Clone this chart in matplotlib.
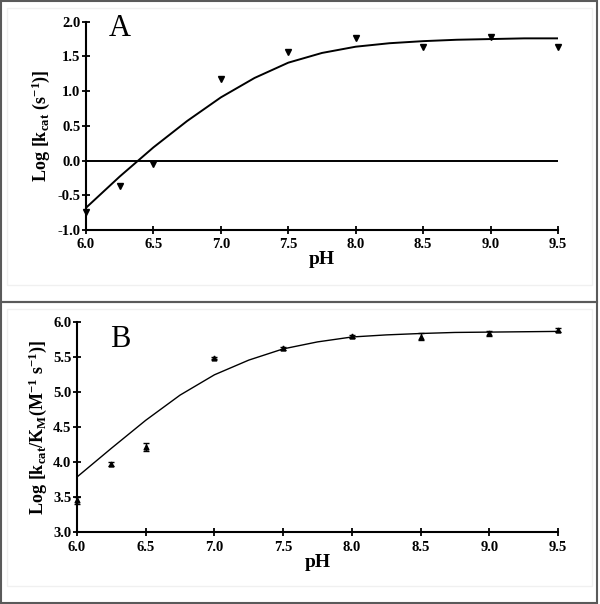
import matplotlib
matplotlib.use("Agg")
import matplotlib.pyplot as plt
from matplotlib.patches import Rectangle
from matplotlib.ticker import FormatStrFormatter

plt.rcParams['font.family'] = ['Liberation Serif', 'DejaVu Serif']
plt.rcParams['mathtext.fontset'] = 'custom'
plt.rcParams['mathtext.rm'] = 'Liberation Serif:bold'
plt.rcParams['mathtext.bf'] = 'Liberation Serif:bold'
plt.rcParams['mathtext.it'] = 'Liberation Serif:bold'
plt.rcParams['mathtext.default'] = 'bf'
plt.rcParams['axes.unicode_minus'] = False

# measured points
ph = [6.0, 6.25, 6.5, 7.0, 7.5, 8.0, 8.5, 9.0, 9.5]
log_kcat = [-0.74, -0.37, -0.05, 1.17, 1.57, 1.77, 1.64, 1.78, 1.64]
log_kcat_km = [3.46, 3.98, 4.22, 5.49, 5.63, 5.80, 5.79, 5.84, 5.89]
log_kcat_km_err = [0.05, 0.03, 0.055, 0.02, 0.02, 0.02, 0.05, 0.04, 0.03]

# fitted curves
fit_ph = [6.0, 6.25, 6.5, 6.75, 7.0, 7.25, 7.5, 7.75, 8.0, 8.25, 8.5, 8.75, 9.0, 9.25, 9.5]
fit_a = [-0.68, -0.23, 0.19, 0.57, 0.91, 1.19, 1.41, 1.55, 1.64, 1.69, 1.72, 1.74, 1.75, 1.76, 1.76]
fit_b = [3.79, 4.20, 4.60, 4.96, 5.25, 5.46, 5.62, 5.72, 5.79, 5.82, 5.84, 5.855, 5.86, 5.865, 5.87]

x_ticks = [6.0, 6.5, 7.0, 7.5, 8.0, 8.5, 9.0, 9.5]

W, H = 600, 604
fig = plt.figure(figsize=(W / 100, H / 100), dpi=100)

# panel frames
for y0, y1 in [(1, 302), (302, 603)]:
    fig.add_artist(Rectangle((1 / W, 1 - y1 / H), 596 / W, (y1 - y0) / H,
                             transform=fig.transFigure, fill=False,
                             edgecolor='#5a5a5a', linewidth=1.5))
    fig.add_artist(Rectangle((7 / W, 1 - (y1 - 17) / H), 585 / W, (y1 - y0 - 24) / H,
                             transform=fig.transFigure, fill=False,
                             edgecolor='#f0f0f0', linewidth=1))


def style_axes(ax, ylim, yticks):
    ax.set_xlim(6.0, 9.5)
    ax.set_ylim(*ylim)
    ax.set_xticks(x_ticks)
    ax.set_yticks(yticks)
    ax.xaxis.set_major_formatter(FormatStrFormatter('%.1f'))
    ax.yaxis.set_major_formatter(FormatStrFormatter('%.1f'))
    for s in ['top', 'right']:
        ax.spines[s].set_visible(False)
    for s in ['left', 'bottom']:
        ax.spines[s].set_linewidth(1.5)
    ax.tick_params(axis='both', direction='inout', length=6, width=1.3, labelsize=10.5)
    ax.tick_params(axis='x', pad=3)
    ax.tick_params(axis='y', pad=1)
    for lab in ax.get_xticklabels() + ax.get_yticklabels():
        lab.set_fontweight('bold')
    ax.set_xlabel('pH', fontsize=14, fontweight='bold', labelpad=0)


# panel A
axA = fig.add_axes([86 / W, 1 - 230 / H, 472 / W, 208.3 / H])
style_axes(axA, (-1.0, 2.0), [-1.0, -0.5, 0.0, 0.5, 1.0, 1.5, 2.0])
axA.plot([6.0, 9.5], [0, 0], color='black', linewidth=1.4)
axA.plot(fit_ph, fit_a, color='black', linewidth=1.4)
axA.plot(ph, log_kcat, linestyle='none', marker='v', markersize=4.5,
         color='black', clip_on=False)
axA.text(6.17, 1.9, 'A', fontsize=22, va='center', ha='left')
axA.set_ylabel(r'$Log\ [k_{cat}\ (s^{-1})]$', fontsize=13)
axA.yaxis.set_label_coords(-0.073, 0.5)

# panel B
axB = fig.add_axes([77 / W, 1 - 532.3 / H, 481 / W, 210 / H])
style_axes(axB, (3.0, 6.0), [3.0, 3.5, 4.0, 4.5, 5.0, 5.5, 6.0])
axB.plot(fit_ph, fit_b, color='black', linewidth=1.0)
axB.errorbar(ph, log_kcat_km, yerr=log_kcat_km_err, fmt='^', markersize=3.5,
             color='black', ecolor='black', elinewidth=1, capsize=2,
             capthick=1, clip_on=False)
axB.text(6.24, 5.76, 'B', fontsize=22, va='center', ha='left')
axB.set_ylabel(r'$Log\ [k_{cat}/K_M(M^{-1}\ s^{-1})]$', fontsize=13)
axB.yaxis.set_label_coords(-0.058, 0.5)

fig.savefig('out.png', dpi=100)
